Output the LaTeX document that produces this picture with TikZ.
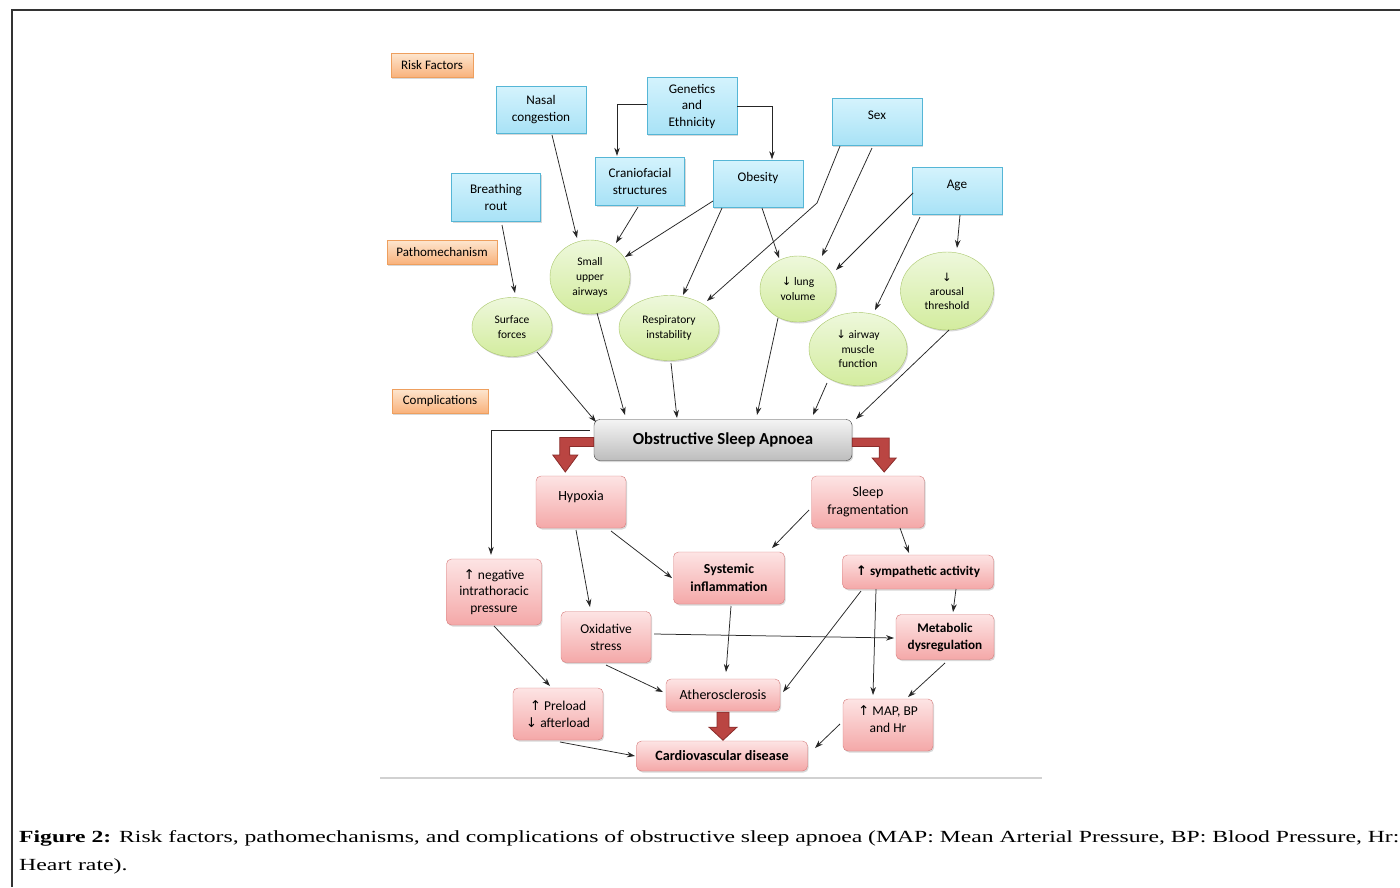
\documentclass[tikz,border=0pt]{standalone}
\usepackage{fontspec}
\usepackage{graphicx}
\setmainfont{Carlito}
\newfontfamily\symf{DejaVu Sans}
\newfontfamily\capfont{Liberation Serif}
\usetikzlibrary{shapes.geometric,arrows.meta,calc,shadows}
\newcommand\uar{{\symf ↑}}
\newcommand\dar{{\symf ↓}}
\newcommand\buar{{\symf\bfseries ↑}}
\definecolor{bTop}{HTML}{D4F3FD}
\definecolor{bBot}{HTML}{A8E2F6}
\definecolor{bBorder}{HTML}{55B6D6}
\definecolor{gTop}{HTML}{EEF8DC}
\definecolor{gBot}{HTML}{D3EC9E}
\definecolor{gBorder}{HTML}{A9C76A}
\definecolor{pTop}{HTML}{FDE4E4}
\definecolor{pBot}{HTML}{F4A8A8}
\definecolor{pBorder}{HTML}{D67B7B}
\definecolor{oTop}{HTML}{FDE6CF}
\definecolor{oBot}{HTML}{F9B27C}
\definecolor{oBorder}{HTML}{EE9F5E}
\definecolor{sTop}{HTML}{F4F4F4}
\definecolor{sBot}{HTML}{BDBDBD}
\definecolor{sBorder}{HTML}{3A3A3A}
\definecolor{rFill}{HTML}{BA4542}
\definecolor{rBorder}{HTML}{8A2C2A}
\begin{document}
\begin{tikzpicture}[x=1pt,y=-1pt,
  every node/.style={inner sep=1pt, align=center},
  shad/.style={drop shadow={shadow xshift=1.2pt, shadow yshift=-1.5pt, opacity=.25, fill=black!60}},
  lbl/.style={rectangle, draw=oBorder, top color=oTop, bottom color=oBot, shad,
    minimum height=24pt, font=\fontsize{13}{15}\selectfont},
  rf/.style={rectangle, draw=bBorder, top color=bTop, bottom color=bBot, shad,
    minimum width=90pt, minimum height=47pt, font=\fontsize{13.2}{17}\selectfont},
  pm/.style={ellipse, draw=gBorder, top color=gTop, bottom color=gBot, shad,
    inner sep=0pt, font=\fontsize{11.5}{15}\selectfont},
  cp/.style={rectangle, rounded corners=5pt, draw=pBorder, top color=pTop, bottom color=pBot, shad,
    minimum width=90pt, minimum height=52pt, font=\fontsize{14}{17}\selectfont},
  arr/.style={-{Stealth[length=8pt,width=5.5pt]}, line width=0.75pt, draw=black!85},
  blk/.style={fill=rFill, draw=rBorder, line width=0.8pt, line join=miter}]

\fill[white] (0,0) rectangle (1400,887);
\useasboundingbox (0,0) rectangle (1400,887);
\draw[line width=1.5pt, black!80] (12,887) -- (12,10) -- (1400,10);

% section labels
\node[lbl, minimum width=82pt] (risk) at (432,65) {Risk Factors};
\node[lbl, minimum width=110pt] (patho) at (442,252) {Pathomechanism};
\node[lbl, minimum width=96pt] (compl) at (440,401) {Complications};

% risk factors
\node[rf] (nasal) at (541,110) {Nasal\\congestion};
\node[rf, minimum height=57pt, font=\fontsize{13.2}{16.5}\selectfont] (gen) at (692,106) {Genetics\\and\\Ethnicity};
\node[rf, minimum width=89pt, minimum height=48pt] (cranio) at (640,181) {Craniofacial\\structures};
\node[rf] (obes) at (758,184) {Obesity\\[-2pt]\mbox{}};
\node[rf] (sex) at (877,122) {Sex\\[-3pt]\mbox{}};
\node[rf, minimum width=89pt, minimum height=48pt] (breath) at (496,197) {Breathing\\rout};
\node[rf] (age) at (957,191) {Age\\[-3pt]\mbox{}};

% pathomechanisms
\node[pm, minimum width=80pt, minimum height=74pt] (small) at (590,277) {Small\\upper\\airways};
\node[pm, minimum width=80pt, minimum height=59pt] (surf) at (512,327) {Surface\\forces};
\node[pm, minimum width=100pt, minimum height=65pt] (resp) at (669,328) {Respiratory\\instability};
\node[pm, minimum width=76pt, minimum height=66pt] (lung) at (798,289) {\dar{} lung\\volume};
\node[pm, minimum width=98pt, minimum height=73pt, font=\fontsize{11.5}{14.5}\selectfont] (airway) at (858,349) {\dar{} airway\\muscle\\function};
\node[pm, minimum width=93pt, minimum height=78pt, font=\fontsize{11.5}{14}\selectfont] (arousal) at (947,291) {\dar\\arousal\\threshold};

% central
\node[rectangle, rounded corners=6pt, draw=sBorder, top color=sTop, bottom color=sBot, shad,
  minimum width=258pt, minimum height=41pt, font=\bfseries\fontsize{16.8}{19}\selectfont] (osa) at (723,440) {Obstructive Sleep Apnoea};

% complications
\node[cp] (hyp) at (581,502) {Hypoxia\\[-4pt]\mbox{}};
\node[cp, minimum width=113pt, font=\fontsize{14}{18}\selectfont] (sleep) at (868,502) {Sleep\\fragmentation};
\node[cp, minimum width=111pt, font=\bfseries\fontsize{13.8}{18}\selectfont] (syst) at (729,578) {Systemic\\inflammation};
\node[cp, minimum width=151pt, minimum height=34pt, font=\bfseries\fontsize{13.2}{15}\selectfont] (symp) at (918,572) {\buar{} sympathetic activity};
\node[cp, minimum width=95pt, minimum height=66pt, font=\fontsize{13.5}{16.5}\selectfont] (neg) at (494,592) {\uar{} negative\\intrathoracic\\pressure};
\node[cp, minimum height=51pt, font=\fontsize{13.5}{17}\selectfont] (oxid) at (606,637) {Oxidative\\stress};
\node[cp, minimum width=98pt, minimum height=45pt, font=\bfseries\fontsize{13.2}{17}\selectfont] (metab) at (945,637) {Metabolic\\dysregulation};
\node[cp, minimum width=114pt, minimum height=32pt] (ather) at (723,695) {Atherosclerosis};
\node[cp, font=\fontsize{13.5}{17}\selectfont] (prel) at (558,714) {\uar{} Preload\\\dar{} afterload};
\node[cp, font=\fontsize{13.5}{17}\selectfont] (map) at (888,725) {\uar{} MAP, BP\\and Hr\\[-6pt]\mbox{}};
\node[cp, minimum width=171pt, minimum height=30pt, font=\bfseries\fontsize{14.2}{16}\selectfont] (cvd) at (722,756) {Cardiovascular disease};

% risk factor connectors
\draw[arr] ($(gen.west)+(0,-2)$) -| ($(cranio.north)+(-23,-1)$);
\draw[arr] (gen.east) -| ($(obes.north)+(14,-1)$);
\draw[arr] ($(nasal)+(11,25)$) -- ($(small)+(-13,-39)$);
\draw[arr] ($(cranio)+(-2,26)$) -- ($(small)+(26,-34)$);
\draw[arr] ($(obes)+(-45,17)$) -- ($(small)+(35,-20)$);
\draw[arr] ($(obes)+(-36,24)$) -- ($(resp)+(14,-33)$);
\draw[arr] ($(obes)+(4,24)$) -- ($(lung)+(-19,-31)$);
\draw[arr] ($(sex)+(-37,24)$) -- ($(sex)+(-60,81)$) -- ($(resp)+(38,-27)$);
\draw[arr] ($(sex)+(-5,26)$) -- ($(lung)+(24,-33)$);
\draw[arr] ($(age)+(-44,2)$) -- ($(lung)+(38,-19)$);
\draw[arr] ($(age)+(-37,26)$) -- ($(airway)+(17,-39)$);
\draw[arr] ($(age)+(3,24)$) -- ($(arousal)+(10,-43)$);
\draw[arr] ($(breath)+(6,28)$) -- ($(surf)+(3,-34)$);

% pathomechanism connectors
\draw[arr] ($(surf)+(25,25)$) -- ($(osa)+(-127,-18)$);
\draw[arr] ($(small)+(7,36)$) -- ($(osa)+(-98,-25)$);
\draw[arr] ($(resp)+(2,35)$) -- ($(osa)+(-46,-22)$);
\draw[arr] ($(lung)+(-20,29)$) -- ($(osa)+(34,-25)$);
\draw[arr] ($(airway)+(-31,34)$) -- ($(osa)+(90,-25)$);
\draw[arr] ($(arousal)+(2,39)$) -- ($(osa)+(133,-21)$);

% complication connectors
\draw[arr] ($(osa.west)+(-4,-10)$) -| ($(neg.north)+(-3,-4)$);
\draw[arr] ($(hyp)+(-5,28)$) -- ($(oxid)+(-16,-30)$);
\draw[arr] ($(hyp)+(30,29)$) -- ($(syst)+(-57,0)$);
\draw[arr] ($(sleep)+(-59,8)$) -- ($(syst)+(43,-30)$);
\draw[arr] ($(sleep)+(32,26)$) -- ($(symp)+(-9,-19)$);
\draw[arr] ($(symp)+(38,17)$) -- ($(metab)+(8,-25)$);
\draw[arr] ($(oxid)+(48,-3)$) -- ($(metab)+(-51,1)$);
\draw[arr] ($(syst)+(2,28)$) -- ($(ather)+(3,-23)$);
\draw[arr] ($(symp)+(-57,19)$) -- ($(ather)+(60,-3)$);
\draw[arr] ($(symp)+(-42,17)$) -- ($(map)+(-15,-30)$);
\draw[arr] ($(metab)+(0,26)$) -- ($(map)+(20,-28)$);
\draw[arr] ($(oxid)+(0,28)$) -- ($(ather)+(-60,-3)$);
\draw[arr] ($(neg)+(0,34)$) -- ($(prel)+(-8,-28)$);
\draw[arr] ($(prel)+(2,28)$) -- ($(cvd)+(-87,0)$);
\draw[arr] ($(map)+(-48,-1)$) -- ($(cvd)+(93,-8)$);

% block arrows
\draw[blk] ($(osa.west)+(0,-2.5)$) -- ($(osa.west)+(-34,-2.5)$) -- ($(osa.west)+(-34,15)$)
  -- ($(osa.west)+(-41,15)$) -- ($(osa.west)+(-28.5,32)$) -- ($(osa.west)+(-16,15)$)
  -- ($(osa.west)+(-24,15)$) -- ($(osa.west)+(-24,6.5)$) -- ($(osa.west)+(0,6.5)$) -- cycle;
\draw[blk] ($(osa.east)+(0,-2)$) -- ($(osa.east)+(37,-2)$) -- ($(osa.east)+(37,18)$)
  -- ($(osa.east)+(44,18)$) -- ($(osa.east)+(32,32)$) -- ($(osa.east)+(20,18)$)
  -- ($(osa.east)+(27,18)$) -- ($(osa.east)+(27,6.5)$) -- ($(osa.east)+(0,6.5)$) -- cycle;
\draw[blk] ($(ather.south)+(-6,1)$) -- ($(ather.south)+(6,1)$) -- ($(ather.south)+(6,16)$)
  -- ($(ather.south)+(14,16)$) -- ($(ather.south)+(0,29)$) -- ($(ather.south)+(-14,16)$)
  -- ($(ather.south)+(-6,16)$) -- cycle;

% separator
\draw[line width=1.5pt, black!18] (380,778) -- (1042,778);

% caption
\node[anchor=base west, inner sep=0pt, font=\capfont\fontsize{17}{20}\selectfont] (cap1) at (19,842)
  {\resizebox{1380pt}{\height}{\textbf{Figure 2:} Risk factors, pathomechanisms, and complications of obstructive sleep apnoea (MAP: Mean Arterial Pressure, BP: Blood Pressure, Hr:}};
\node[anchor=base west, inner sep=0pt, font=\capfont\fontsize{17}{20}\selectfont] (cap2) at (19,870)
  {\scalebox{1.4}[1]{Heart rate).}};
\end{tikzpicture}
\end{document}
